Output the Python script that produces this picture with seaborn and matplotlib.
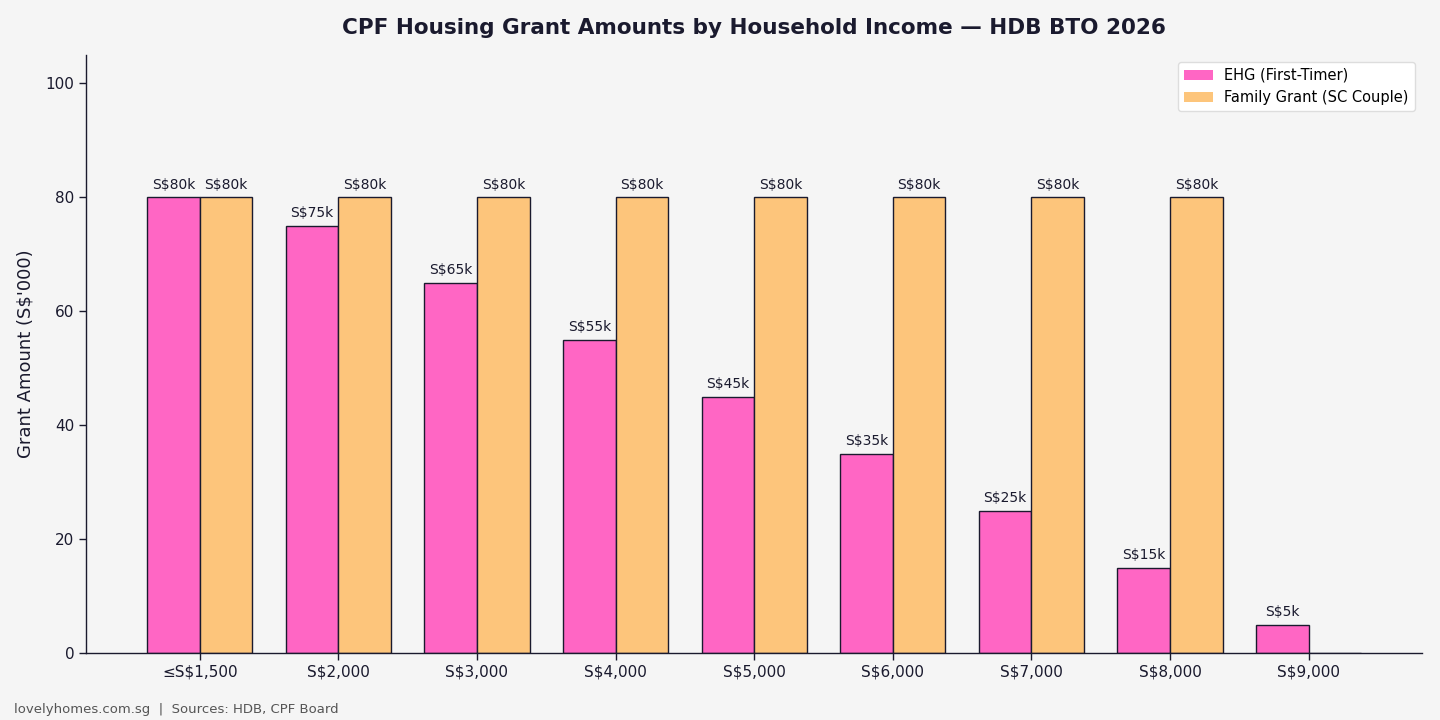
import pandas as pd
import numpy as np
import matplotlib
matplotlib.use("Agg")
import matplotlib.pyplot as plt
import seaborn as sns

# data
incomes = ["≤S$1,500", "S$2,000", "S$3,000", "S$4,000", "S$5,000",
           "S$6,000", "S$7,000", "S$8,000", "S$9,000"]
ehg = [80, 75, 65, 55, 45, 35, 25, 15, 5]
family = [80, 80, 80, 80, 80, 80, 80, 80, 0]
series_names = ["EHG (First-Timer)", "Family Grant (SC Couple)"]
colors = ["#ff66c4", "#fdc57b"]

df = pd.DataFrame({
    "income": incomes * 2,
    "grant": ehg + family,
    "scheme": [series_names[0]] * len(incomes) + [series_names[1]] * len(incomes),
})

navy = "#1a1a2e"
sns.set_style("white")
plt.rcParams["font.family"] = ["DejaVu Sans"]

fig, ax = plt.subplots(figsize=(14.4, 7.2), dpi=100)
fig.patch.set_facecolor("#f5f5f5")
ax.set_facecolor("#f5f5f5")

sns.barplot(data=df, x="income", y="grant", hue="scheme", order=incomes,
            hue_order=series_names, palette=colors, saturation=1,
            width=0.76, edgecolor=navy, linewidth=1, ax=ax)

# value labels, skip zero bars
for cont in ax.containers:
    labels = [f"S${int(b.get_height())}k" if b.get_height() > 0 else "" for b in cont]
    ax.bar_label(cont, labels=labels, padding=4, fontsize=10, color=navy)

ax.set_xlim(-0.818, 8.818)
ax.set_ylim(0, 105)
ax.set_yticks([0, 20, 40, 60, 80, 100])
ax.set_xlabel("")
ax.set_ylabel("Grant Amount (S$'000)", fontsize=13, color=navy, labelpad=8)
ax.set_title("CPF Housing Grant Amounts by Household Income — HDB BTO 2026",
             fontsize=15.5, fontweight="bold", color=navy, pad=15)
ax.tick_params(axis="both", labelsize=11, colors=navy, length=5, width=1, left=True, bottom=True)

sns.despine(ax=ax)
for s in ["left", "bottom"]:
    ax.spines[s].set_color(navy)
    ax.spines[s].set_linewidth(1)

leg = ax.legend(loc="upper right", fontsize=10.5, frameon=True, facecolor="white",
                edgecolor="#dddddd", framealpha=1)
leg.set_title(None)
for h in leg.get_patches():
    h.set_edgecolor("none")
for t in leg.get_texts():
    t.set_color("black")

fig.text(0.01, 0.01, "lovelyhomes.com.sg  |  Sources: HDB, CPF Board",
         fontsize=9.5, color="#555555")

plt.subplots_adjust(left=0.06, right=0.9875, top=0.924, bottom=0.093)
plt.savefig("out.png", dpi=100, facecolor=fig.get_facecolor())
